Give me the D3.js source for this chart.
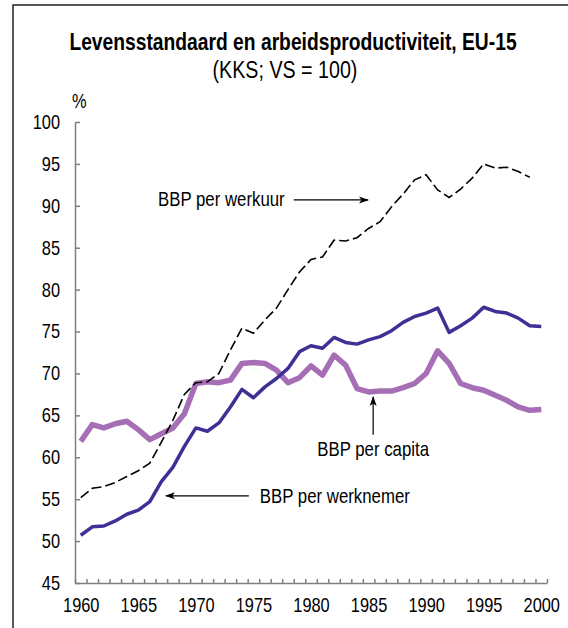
<!DOCTYPE html>
<meta charset="utf-8">
<script src="https://d3js.org/d3.v7.min.js"></script>
<style>
  body { margin: 0; background: #fff; }
  text { font-family: "Liberation Sans", Arial, sans-serif; fill: #000; }
</style>
<div id="chart"></div>
<script>
// years 1960 - 2000
const years = d3.range(1960, 2001);

// BBP per werkuur (no value for 2000)
const perWerkuur = [55.2, 56.3, 56.5, 57.0, 57.7, 58.4, 59.3, 61.8, 64.4, 67.5,
  68.9, 69.0, 70.0, 72.8, 75.4, 74.8, 76.4, 77.8, 80.0, 82.1,
  83.6, 83.9, 85.9, 85.8, 86.2, 87.3, 88.1, 89.9, 91.4, 93.1,
  93.7, 91.9, 91.0, 92.0, 93.3, 95.0, 94.5, 94.6, 94.1, 93.4, null];

// BBP per werknemer
const perWerknemer = [50.7, 51.7, 51.8, 52.4, 53.2, 53.7, 54.7, 57.1, 58.8, 61.3,
  63.5, 63.1, 64.1, 66.0, 68.1, 67.1, 68.4, 69.4, 70.6, 72.6,
  73.3, 73.0, 74.3, 73.7, 73.5, 74.0, 74.4, 75.1, 76.1, 76.8,
  77.2, 77.8, 74.9, 75.7, 76.6, 77.9, 77.4, 77.2, 76.6, 75.7, 75.6];

// BBP per capita
const perCapita = [61.9, 63.9, 63.5, 64.0, 64.3, 63.3, 62.1, 62.8, 63.5, 65.2,
  68.8, 69.0, 68.9, 69.2, 71.2, 71.3, 71.2, 70.4, 68.9, 69.5,
  70.9, 69.8, 72.2, 71.0, 68.2, 67.8, 67.9, 67.9, 68.3, 68.8,
  70.0, 72.7, 71.2, 68.8, 68.3, 68.0, 67.4, 66.8, 66.0, 65.6, 65.7];

const yTicks = d3.range(45, 101, 5);
const xLabelYears = d3.range(1960, 2001, 5);

const W = 568, H = 628;
const svg = d3.select("#chart").append("svg")
  .attr("width", W).attr("height", H);

// frame
svg.append("path")
  .attr("d", "M13,628V5H568")
  .attr("fill", "none").attr("stroke", "#222").attr("stroke-width", 1.5);

// title
svg.append("text")
  .attr("x", 293).attr("y", 50)
  .attr("text-anchor", "middle")
  .style("font-size", "23.5px").style("font-weight", "bold")
  .text("Levensstandaard en arbeidsproductiviteit, EU-15");
svg.append("text")
  .attr("x", 285).attr("y", 78)
  .attr("text-anchor", "middle")
  .style("font-size", "24px")
  .text("(KKS; VS = 100)");

// scales: x spans category edges, points sit in the middle of each year
const x = d3.scaleLinear().domain([1960, 2001]).range([75, 547]);
const y = d3.scaleLinear().domain([45, 100]).range([583, 122]);
const px = yr => x(yr + 0.5);

svg.append("text")
  .attr("x", 72).attr("y", 108)
  .style("font-size", "20px")
  .text("%");

// y axis
const gy = svg.append("g")
  .attr("transform", "translate(75,0)")
  .call(d3.axisLeft(y).tickValues(yTicks).tickSize(-5).tickSizeOuter(0).tickPadding(15));
gy.selectAll("text").style("font-size", "20px").attr("fill", "#000");

// x axis: minor ticks at every year edge
const gx = svg.append("g")
  .attr("transform", "translate(0,583)")
  .call(d3.axisBottom(x).tickValues(d3.range(1960, 2002)).tickSize(-4).tickSizeOuter(0).tickFormat(""));
// x labels at year centres
const gxl = svg.append("g")
  .attr("transform", "translate(0,583)")
  .call(d3.axisBottom(x).tickValues(xLabelYears.map(d => d + 0.5))
    .tickSize(0).tickPadding(15).tickFormat(d => d - 0.5));
gxl.select(".domain").remove();
gxl.selectAll("text").style("font-size", "20px").attr("fill", "#000");

[gy, gx].forEach(g => {
  g.selectAll(".domain, .tick line").attr("stroke", "#808080").attr("stroke-width", 1.5);
});

// lines
const line = data => d3.line()
  .defined(d => d != null)
  .x((d, i) => px(years[i]))
  .y(d => y(d))(data);

svg.append("path")
  .attr("d", line(perCapita))
  .attr("fill", "none").attr("stroke", "#a66fb5").attr("stroke-width", 5.5)
  .attr("stroke-linejoin", "round");

svg.append("path")
  .attr("d", line(perWerkuur))
  .attr("fill", "none").attr("stroke", "#000").attr("stroke-width", 1.6)
  .attr("stroke-dasharray", "10,4");

svg.append("path")
  .attr("d", line(perWerknemer))
  .attr("fill", "none").attr("stroke", "#3d3195").attr("stroke-width", 3.5)
  .attr("stroke-linejoin", "round");

// arrow marker
svg.append("defs").append("marker")
  .attr("id", "arrow")
  .attr("viewBox", "0 0 10 10")
  .attr("refX", 9).attr("refY", 5)
  .attr("markerWidth", 10).attr("markerHeight", 10)
  .attr("markerUnits", "userSpaceOnUse")
  .attr("orient", "auto")
  .append("path")
  .attr("d", "M0,1.5L10,5L0,8.5L2.5,5Z")
  .attr("fill", "#000");

function arrow(x1, y1, x2, y2) {
  svg.append("line")
    .attr("x1", x1).attr("y1", y1).attr("x2", x2).attr("y2", y2)
    .attr("stroke", "#000").attr("stroke-width", 1.2)
    .attr("marker-end", "url(#arrow)");
}

// annotations
const ay1 = y(90.7);
arrow(x(1979.0), ay1, x(1985.45), ay1);
svg.append("text")
  .attr("x", x(1979.0) - 9).attr("y", ay1 + 6)
  .attr("text-anchor", "end").style("font-size", "20.5px")
  .text("BBP per werkuur");

const ay2 = y(55.4);
arrow(x(1975.1), ay2, x(1967.9), ay2);
svg.append("text")
  .attr("x", x(1975.1) + 11).attr("y", ay2 + 7)
  .style("font-size", "20.5px")
  .text("BBP per werknemer");

const ax3 = x(1985.9);
arrow(ax3, y(62.7), ax3, y(67.2));
svg.append("text")
  .attr("x", ax3).attr("y", y(60.1))
  .attr("text-anchor", "middle").style("font-size", "20.5px")
  .text("BBP per capita");

// the original lettering is narrow: squeeze every text around its anchor
svg.selectAll("text").each(function () {
  const t = d3.select(this);
  const tx = +t.attr("x") || 0, ty = +t.attr("y") || 0;
  t.attr("transform", `translate(${tx},${ty}) scale(0.82,1) translate(${-tx},${-ty})`);
});
</script>
